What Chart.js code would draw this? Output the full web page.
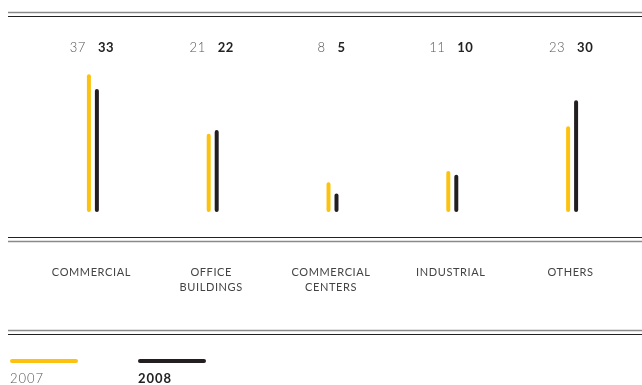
<!DOCTYPE html>
<html>
<head>
<meta charset="utf-8">
<script src="https://cdn.jsdelivr.net/npm/chart.js@4.4.0/dist/chart.umd.min.js"></script>
<style>
  html, body { margin: 0; padding: 0; background: #fff; }
  #wrap { width: 642px; height: 385px; position: relative; }
</style>
</head>
<body>
<div id="wrap"><canvas id="chart"></canvas></div>
<script>
// categories and yearly values
const categories = [["COMMERCIAL"], ["OFFICE", "BUILDINGS"], ["COMMERCIAL", "CENTERS"], ["INDUSTRIAL"], ["OTHERS"]];
const values2007 = [37, 21, 8, 11, 23];
const values2008 = [33, 22, 5, 10, 30];
const years = ["2007", "2008"];

const YELLOW = "#FDC20F";
const BLACK = "#231F20";
const FONT = "Lato, 'Open Sans', sans-serif";

// double rules, numbers over the bars, category names and the legend
const decorations = {
  id: "decorations",
  afterDraw(chart) {
    const ctx = chart.ctx;
    const x = chart.scales.x;
    const W = chart.width;

    function rule(y, color, w) {
      ctx.save();
      ctx.strokeStyle = color;
      ctx.lineWidth = w;
      ctx.beginPath();
      ctx.moveTo(8, y);
      ctx.lineTo(W, y);
      ctx.stroke();
      ctx.restore();
    }
    rule(12.5, "#8a8a8a", 1.5);
    rule(16.5, "#222", 1);
    rule(237.5, "#222", 1);
    rule(241.5, "#8a8a8a", 1.5);
    rule(330.5, "#8a8a8a", 1.5);
    rule(334.5, "#222", 1);

    ctx.save();
    ctx.textBaseline = "middle";
    categories.forEach((lines, i) => {
      const cx = x.getPixelForValue(i);
      // value pair
      ctx.letterSpacing = "0.5px";
      ctx.font = "300 13px " + FONT;
      ctx.fillStyle = "#555";
      ctx.textAlign = "right";
      ctx.fillText(String(values2007[i]), cx - 7, 48);
      ctx.font = "bold 13px " + FONT;
      ctx.fillStyle = "#222";
      ctx.textAlign = "left";
      ctx.fillText(String(values2008[i]), cx + 5, 48);
      // category name
      ctx.letterSpacing = "0.6px";
      ctx.font = "11px " + FONT;
      ctx.fillStyle = "#444";
      ctx.textAlign = "center";
      lines.forEach((t, j) => ctx.fillText(t, cx - 1.5, 272 + j * 15));
    });

    // legend
    const items = [
      { x: 10, color: YELLOW, text: years[0], font: "300 13px " + FONT, tc: "#555" },
      { x: 138, color: BLACK, text: years[1], font: "bold 13px " + FONT, tc: "#222" }
    ];
    ctx.letterSpacing = "1px";
    items.forEach(it => {
      ctx.strokeStyle = it.color;
      ctx.lineWidth = 4;
      ctx.lineCap = "round";
      ctx.beginPath();
      ctx.moveTo(it.x + 2, 361);
      ctx.lineTo(it.x + 66, 361);
      ctx.stroke();
      ctx.font = it.font;
      ctx.fillStyle = it.tc;
      ctx.textAlign = "left";
      ctx.fillText(it.text, it.x, 379);
    });
    ctx.restore();
  }
};

new Chart(document.getElementById("chart"), {
  type: "bar",
  data: {
    labels: categories,
    datasets: [
      { label: years[0], data: values2007, backgroundColor: YELLOW },
      { label: years[1], data: values2008, backgroundColor: BLACK }
    ]
  },
  options: {
    responsive: true,
    maintainAspectRatio: false,
    animation: false,
    layout: { padding: { left: 33, right: 10, top: 63, bottom: 173 } },
    datasets: {
      bar: {
        categoryPercentage: 16 / 120,
        barPercentage: 0.5,
        borderRadius: 2,
        borderSkipped: false
      }
    },
    scales: {
      x: { display: false },
      y: { display: false, min: 0, max: 40 }
    },
    plugins: {
      legend: { display: false },
      tooltip: { enabled: false }
    }
  },
  plugins: [decorations]
});
</script>
</body>
</html>
